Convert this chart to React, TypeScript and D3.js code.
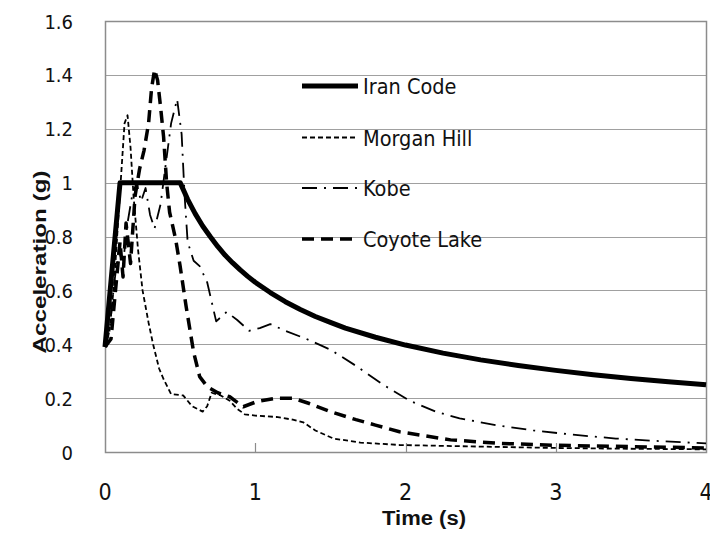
import React, { useEffect, useRef } from 'react';
import * as d3 from 'd3';

// [period (s), spectral acceleration (g)]
const iranCode: [number, number][] = [
  [0, 0.39], [0.1, 1.0], [0.5, 1.0], [0.55, 0.938], [0.6, 0.885], [0.65, 0.839], [0.7, 0.8],
  [0.75, 0.763], [0.8, 0.73], [0.85, 0.702], [0.9, 0.676], [0.95, 0.652], [1.0, 0.63],
  [1.1, 0.592], [1.2, 0.558], [1.3, 0.529], [1.4, 0.503], [1.5, 0.481], [1.6, 0.46],
  [1.8, 0.426], [2.0, 0.397], [2.25, 0.367], [2.5, 0.342], [2.75, 0.321], [3.0, 0.303],
  [3.25, 0.287], [3.5, 0.273], [3.75, 0.261], [4.0, 0.25],
];

const morganHill: [number, number][] = [
  [0, 0.39], [0.03, 0.45], [0.06, 0.62], [0.09, 0.88], [0.11, 1.05], [0.13, 1.22], [0.15, 1.25],
  [0.17, 1.13], [0.19, 0.95], [0.22, 0.75], [0.25, 0.6], [0.29, 0.48], [0.32, 0.4], [0.36, 0.31],
  [0.39, 0.27], [0.44, 0.215], [0.52, 0.21], [0.58, 0.17], [0.65, 0.15], [0.68, 0.17],
  [0.71, 0.22], [0.77, 0.21], [0.83, 0.19], [0.88, 0.16], [0.93, 0.14], [1.0, 0.135],
  [1.14, 0.13], [1.25, 0.12], [1.32, 0.11], [1.4, 0.08], [1.52, 0.05], [1.7, 0.035],
  [1.96, 0.026], [2.5, 0.02], [3.0, 0.015], [3.5, 0.012], [4.0, 0.01],
];

const kobe: [number, number][] = [
  [0, 0.39], [0.03, 0.45], [0.06, 0.62], [0.09, 0.75], [0.12, 0.7], [0.15, 0.85], [0.18, 0.95],
  [0.21, 1.0], [0.24, 0.93], [0.27, 0.98], [0.3, 0.88], [0.33, 0.83], [0.37, 0.92], [0.4, 1.05],
  [0.44, 1.22], [0.48, 1.31], [0.51, 1.18], [0.53, 0.95], [0.55, 0.78], [0.59, 0.71],
  [0.63, 0.69], [0.68, 0.63], [0.74, 0.485], [0.81, 0.52], [0.88, 0.49], [0.96, 0.45],
  [1.03, 0.46], [1.1, 0.475], [1.2, 0.45], [1.34, 0.42], [1.5, 0.38], [1.67, 0.32],
  [1.85, 0.25], [2.03, 0.19], [2.2, 0.15], [2.36, 0.125], [2.6, 0.1], [2.85, 0.08],
  [3.1, 0.065], [3.4, 0.05], [3.7, 0.04], [4.0, 0.032],
];

const coyoteLake: [number, number][] = [
  [0, 0.39], [0.04, 0.42], [0.07, 0.6], [0.1, 0.78], [0.12, 0.65], [0.14, 0.85], [0.17, 0.7],
  [0.2, 0.95], [0.23, 1.05], [0.26, 1.12], [0.29, 1.22], [0.31, 1.35], [0.33, 1.42],
  [0.35, 1.38], [0.37, 1.28], [0.39, 1.17], [0.41, 1.0], [0.43, 0.89], [0.47, 0.79],
  [0.5, 0.69], [0.54, 0.54], [0.59, 0.37], [0.63, 0.28], [0.68, 0.243], [0.75, 0.22],
  [0.83, 0.205], [0.92, 0.168], [1.01, 0.187], [1.14, 0.2], [1.25, 0.2], [1.36, 0.18],
  [1.5, 0.15], [1.67, 0.12], [1.8, 0.1], [1.96, 0.075], [2.3, 0.045], [2.63, 0.032],
  [3.0, 0.025], [3.5, 0.02], [4.0, 0.015],
];

const seriesNames = ['Iran Code', 'Morgan Hill', 'Kobe', 'Coyote Lake'];
const yTicks = [0, 0.2, 0.4, 0.6, 0.8, 1, 1.2, 1.4, 1.6];
const xTicks = [0, 1, 2, 3, 4];

const FONT = '"Liberation Sans Narrow", "DejaVu Sans Condensed", "Liberation Sans", sans-serif';
const BOLD_FONT = '"Liberation Sans", Arial, sans-serif';

const styles = [
  { width: 5, dash: null },
  { width: 1.8, dash: '5,3' },
  { width: 1.8, dash: '15,7,2,7' },
  { width: 3.5, dash: '12,7' },
];

const App: React.FC = () => {
  const svgRef = useRef<SVGSVGElement>(null);

  useEffect(() => {
    if (!svgRef.current) return;
    const svg = d3.select(svgRef.current);
    svg.selectAll('*').remove();

    const x = d3.scaleLinear().domain([0, 4]).range([105, 706]);
    const y = d3.scaleLinear().domain([0, 1.6]).range([452, 21]);

    svg.append('rect').attr('width', 710).attr('height', 536).attr('fill', '#fff');

    // gridlines
    svg.append('g')
      .selectAll('line')
      .data(yTicks.slice(1))
      .enter()
      .append('line')
      .attr('x1', x(0))
      .attr('x2', x(4))
      .attr('y1', d => Math.round(y(d)) + 0.5)
      .attr('y2', d => Math.round(y(d)) + 0.5)
      .attr('stroke', '#a0a0a0')
      .attr('stroke-width', 1.2);

    // plot frame
    svg.append('rect')
      .attr('x', x(0) + 0.5)
      .attr('y', y(1.6) + 0.5)
      .attr('width', x(4) - x(0))
      .attr('height', y(0) - y(1.6))
      .attr('fill', 'none')
      .attr('stroke', '#8c8c8c')
      .attr('stroke-width', 1.5);

    // x ticks (inside)
    svg.append('g')
      .selectAll('line')
      .data(xTicks.slice(1, -1))
      .enter()
      .append('line')
      .attr('x1', d => Math.round(x(d)) + 0.5)
      .attr('x2', d => Math.round(x(d)) + 0.5)
      .attr('y1', y(0))
      .attr('y2', y(0) - 9)
      .attr('stroke', '#8c8c8c')
      .attr('stroke-width', 1.2);

    // y tick labels
    svg.append('g')
      .selectAll('text')
      .data(yTicks)
      .enter()
      .append('text')
      .attr('x', 73)
      .attr('y', d => y(d) + 7.5)
      .attr('text-anchor', 'end')
      .style('font-family', FONT)
      .style('font-size', '20px')
      .style('fill', '#111')
      .text(d => String(+d.toFixed(1)));

    // x tick labels
    svg.append('g')
      .selectAll('text')
      .data(xTicks)
      .enter()
      .append('text')
      .attr('x', d => x(d))
      .attr('y', 500)
      .attr('text-anchor', 'middle')
      .style('font-family', FONT)
      .style('font-size', '23px')
      .style('fill', '#111')
      .text(d => String(d));

    // axis titles
    svg.append('text')
      .attr('transform', 'translate(46,262) rotate(-90)')
      .attr('text-anchor', 'middle')
      .attr('textLength', 183)
      .attr('lengthAdjust', 'spacingAndGlyphs')
      .style('font-family', BOLD_FONT)
      .style('font-weight', 'bold')
      .style('font-size', '19px')
      .style('fill', '#111')
      .text('Acceleration (g)');

    svg.append('text')
      .attr('x', 424)
      .attr('y', 525)
      .attr('text-anchor', 'middle')
      .attr('textLength', 84)
      .attr('lengthAdjust', 'spacingAndGlyphs')
      .style('font-family', BOLD_FONT)
      .style('font-weight', 'bold')
      .style('font-size', '20px')
      .style('fill', '#111')
      .text('Time (s)');

    // series
    const allSeries = [iranCode, morganHill, kobe, coyoteLake];
    const line = d3.line<[number, number]>()
      .x(d => x(d[0]))
      .y(d => y(d[1]));
    const lines = svg.append('g');
    [1, 2, 3, 0].forEach(i => {
      const s = styles[i];
      lines.append('path')
        .datum(allSeries[i])
        .attr('d', line)
        .attr('fill', 'none')
        .attr('stroke', '#000')
        .attr('stroke-width', s.width)
        .attr('stroke-dasharray', s.dash)
        .attr('stroke-linejoin', 'round');
    });

    // legend
    const legendY = [86, 137.5, 188, 239];
    const legend = svg.append('g');
    seriesNames.forEach((name, i) => {
      const s = styles[i];
      legend.append('line')
        .attr('x1', 302)
        .attr('x2', 358)
        .attr('y1', legendY[i])
        .attr('y2', legendY[i])
        .attr('stroke', '#000')
        .attr('stroke-width', s.width)
        .attr('stroke-dasharray', s.dash);
      legend.append('text')
        .attr('x', 363)
        .attr('y', legendY[i] + 8)
        .style('font-family', FONT)
        .style('font-size', '21.5px')
        .style('fill', '#111')
        .text(name);
    });
  }, []);

  return (
    <svg
      ref={svgRef}
      width={710}
      height={536}
      style={{ position: 'absolute', left: 0, top: 0, display: 'block' }}
    />
  );
};

export default App;
